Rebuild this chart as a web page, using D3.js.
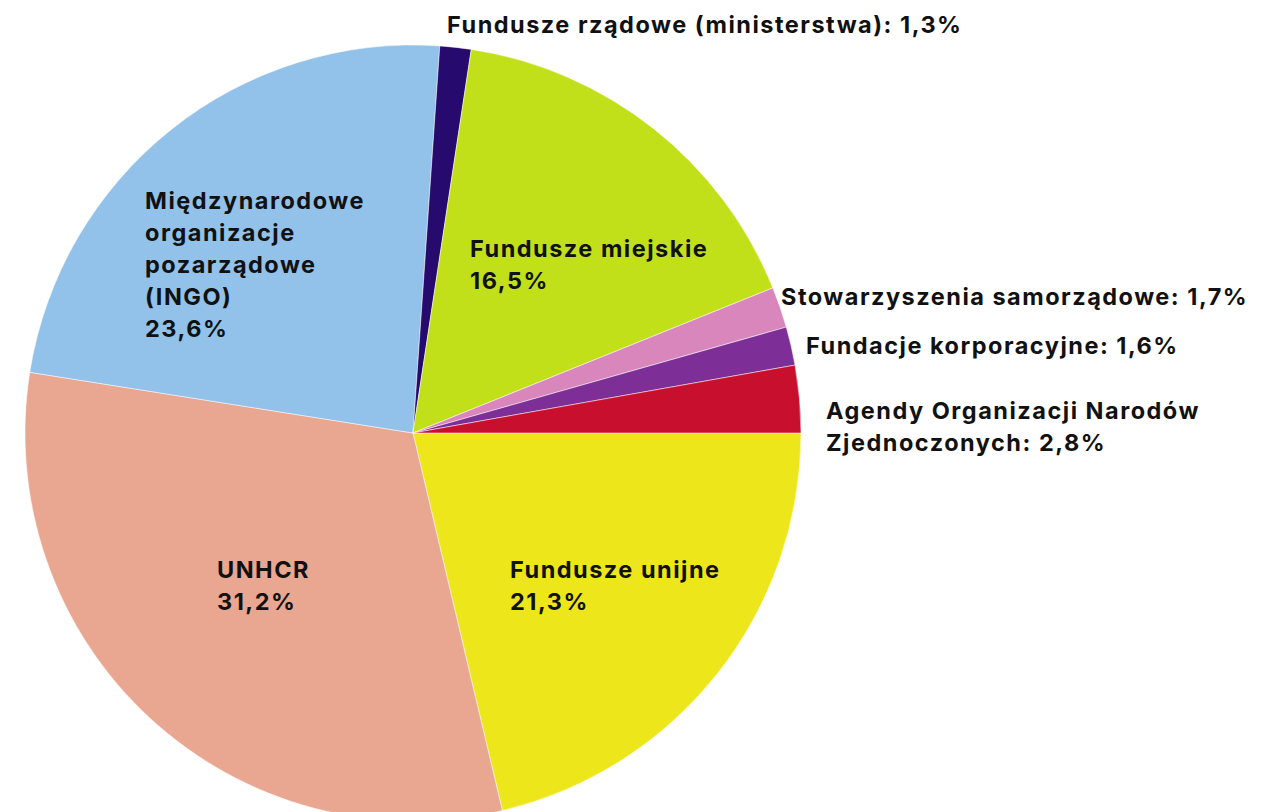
<!DOCTYPE html>
<html><head><meta charset="utf-8">
<script src="https://cdn.jsdelivr.net/npm/d3@7"></script>
<style>html,body{margin:0;padding:0;background:#fff;}svg{display:block;}</style>
</head><body>
<svg id="chart" width="1278" height="812"></svg>
<script>
const categories = ["Fundusze unijne","UNHCR","Międzynarodowe organizacje pozarządowe (INGO)","Fundusze rządowe (ministerstwa)","Fundusze miejskie","Stowarzyszenia samorządowe","Fundacje korporacyjne","Agendy Organizacji Narodów Zjednoczonych"];
const values = [21.3,31.2,23.6,1.3,16.5,1.7,1.6,2.8];
const colors = ["#ECE61A","#E9A792","#92C1E9","#260A6E","#C2E019","#D986BC","#7E2F97","#C8102E"];
const labelLines = [
  ["Fundusze unijne","21,3%"],
  ["UNHCR","31,2%"],
  ["Międzynarodowe","organizacje","pozarządowe","(INGO)","23,6%"],
  ["Fundusze rządowe (ministerstwa): 1,3%"],
  ["Fundusze miejskie","16,5%"],
  ["Stowarzyszenia samorządowe: 1,7%"],
  ["Fundacje korporacyjne: 1,6%"],
  ["Agendy Organizacji Narodów","Zjednoczonych: 2,8%"]
];
// label anchor (left x, first baseline)
const labelPos = [[510,578],[217,578],[145,209],[447,33],[470,257],[781,305],[806,354],[826,419]];

const svg = d3.select("#chart");
const cx = 413, cy = 433, r = 388;
const pie = d3.pie().sort(null).value(d=>d).startAngle(Math.PI/2).endAngle(Math.PI/2+2*Math.PI);
const arc = d3.arc().innerRadius(0).outerRadius(r);
const g = svg.append("g").attr("transform",`translate(${cx},${cy})`);
g.selectAll("path").data(pie(values)).join("path")
  .attr("d",arc).attr("fill",(d,i)=>colors[i])
  .attr("stroke","#fff").attr("stroke-width",0.5);

const lh = 32;
labelLines.forEach((lines,i)=>{
  const t = svg.append("text").attr("x",labelPos[i][0]).attr("y",labelPos[i][1])
    .attr("font-family","Inter, 'Open Sans', sans-serif").attr("font-weight",700)
    .attr("font-size",23.5).attr("letter-spacing",1.5).attr("fill","#111");
  lines.forEach((l,j)=>{
    t.append("tspan").attr("x",labelPos[i][0]).attr("y",labelPos[i][1]+j*lh).text(l);
  });
});
</script>
</body></html>
